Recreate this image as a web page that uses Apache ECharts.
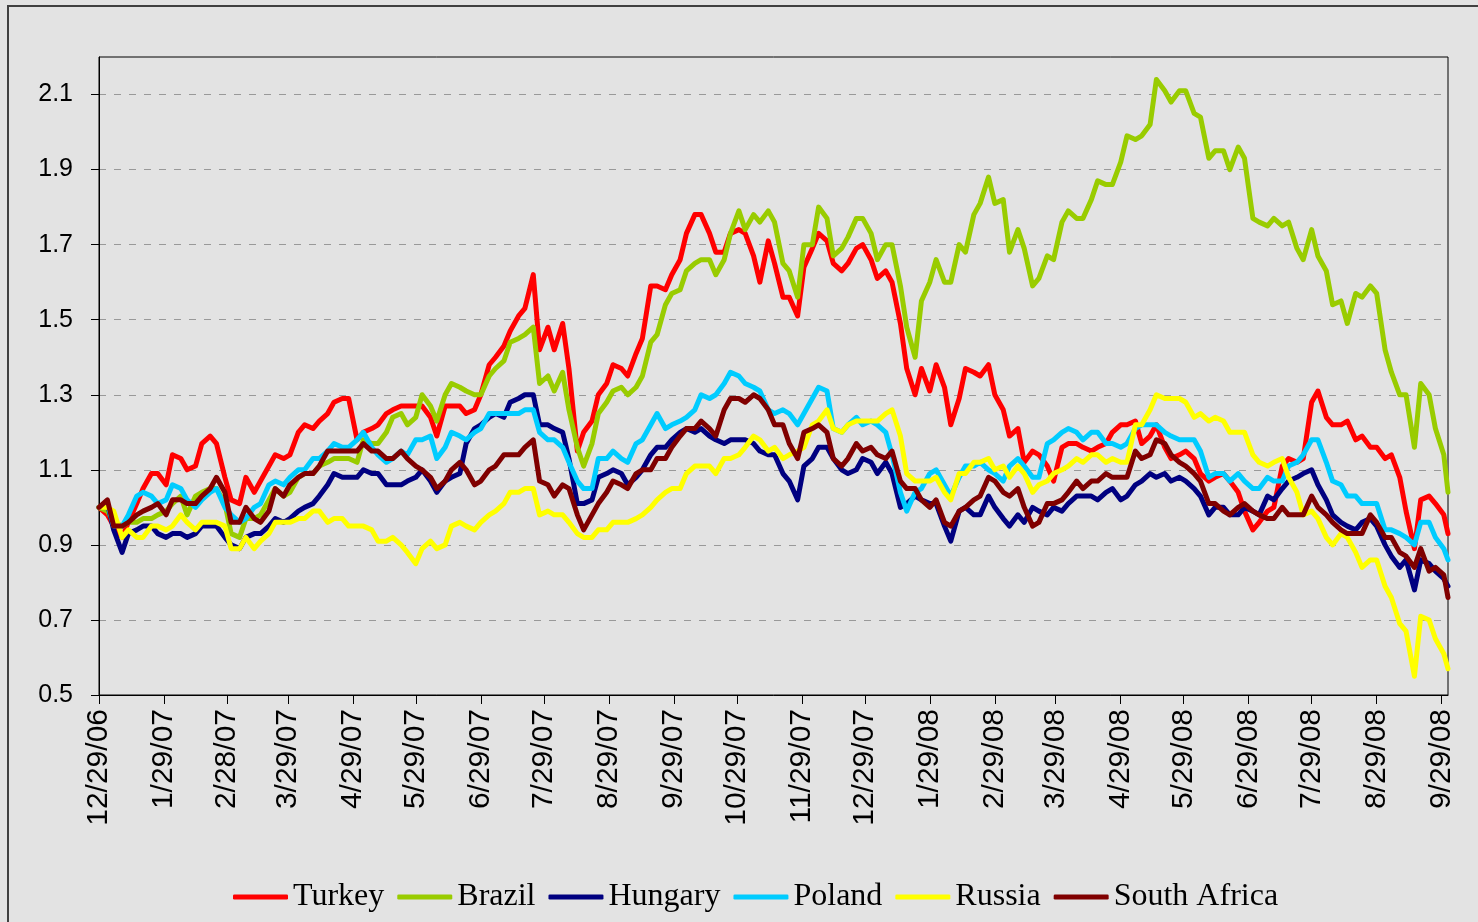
<!DOCTYPE html>
<html>
<head>
<meta charset="utf-8">
<script src="https://cdn.jsdelivr.net/npm/echarts@6/dist/echarts.min.js"></script>
<style>
html, body { margin: 0; padding: 0; background: #e3e3e3; overflow: hidden; }
#echartsShow { position: absolute; left: 0; top: 0; width: 1478px; height: 922px; }
#frame { position: absolute; left: 7px; top: 5px; width: 1600px; height: 1100px; border: 2px solid #404040; pointer-events: none; }
</style>
</head>
<body>
<div id="echartsShow"></div>
<div id="frame"></div>
<script>
// x axis: every calendar day from 12/29/06
// on the weekly days (0, 7, 14 ...) and on the mid-week days (4, 11, 18 ...)
var dayCount = 644;
var weekDays = [];
for (var w = 0; w < 92; w++) weekDays.push(w * 7);
weekDays.push(643);
var midDays = [];
for (var m = 0; m < 92; m++) midDays.push(m * 7 + 4);

var tickLabels = ['12/29/06','1/29/07','2/28/07','3/29/07','4/29/07','5/29/07','6/29/07','7/29/07',
  '8/29/07','9/29/07','10/29/07','11/29/07','12/29/07','1/29/08','2/29/08','3/29/08','4/29/08',
  '5/29/08','6/29/08','7/29/08','8/29/08','9/29/08'];
var yTicks = [0.5, 0.7, 0.9, 1.1, 1.3, 1.5, 1.7, 1.9, 2.1];

var names = ['Turkey', 'Brazil', 'Hungary', 'Poland', 'Russia', 'South Africa'];
var colors = ['#ff0000', '#99cc00', '#000080', '#00ccff', '#ffff00', '#800000'];

var turkey = [1.00,0.95,0.96,1.05,1.09,1.14,1.10,1.17,1.17,1.02,1.08,1.07,1.14,1.14,1.22,1.23,1.28,1.29,1.20,1.22,
  1.26,1.27,1.27,1.19,1.27,1.25,1.30,1.40,1.47,1.53,1.42,1.42,1.37,1.20,1.30,1.38,1.35,1.45,1.59,1.62,
  1.73,1.78,1.68,1.73,1.73,1.60,1.65,1.56,1.64,1.73,1.65,1.65,1.70,1.61,1.60,1.37,1.37,1.38,1.22,1.37,
  1.35,1.30,1.19,1.12,1.14,1.07,1.17,1.16,1.16,1.20,1.22,1.17,1.22,1.13,1.15,1.09,1.08,1.07,0.99,0.96,
  1.00,1.13,1.13,1.31,1.22,1.23,1.19,1.16,1.14,0.99,1.02,1.01,0.93];
var turkeyMid = [0.98,0.92,1.01,1.09,1.06,1.13,1.11,1.19,1.08,1.01,1.04,1.11,1.13,1.20,1.21,1.25,1.29,1.18,1.21,1.25,
  1.27,1.27,1.24,1.27,1.27,1.26,1.38,1.43,1.51,1.62,1.48,1.49,1.15,1.23,1.33,1.37,1.41,1.59,1.58,1.66,
  1.78,1.73,1.68,1.74,1.67,1.71,1.56,1.51,1.69,1.71,1.63,1.69,1.66,1.63,1.49,1.30,1.31,1.32,1.29,1.36,
  1.38,1.26,1.21,1.15,1.11,1.16,1.17,1.15,1.17,1.22,1.23,1.19,1.16,1.14,1.13,1.07,1.09,1.04,0.94,0.99,
  1.11,1.12,1.28,1.24,1.22,1.18,1.16,1.13,1.08,0.89,1.03,0.98];

var brazil = [1.00,0.96,0.96,0.97,0.98,1.01,0.98,1.04,1.05,0.93,0.97,0.98,1.05,1.04,1.09,1.11,1.13,1.13,1.18,1.17,
  1.24,1.22,1.30,1.23,1.33,1.31,1.30,1.37,1.44,1.46,1.33,1.31,1.26,1.11,1.25,1.31,1.30,1.35,1.46,1.57,
  1.63,1.66,1.62,1.73,1.74,1.76,1.76,1.63,1.70,1.80,1.67,1.72,1.77,1.66,1.70,1.48,1.55,1.66,1.60,1.68,
  1.81,1.81,1.68,1.69,1.61,1.66,1.79,1.77,1.87,1.86,1.99,1.99,2.14,2.08,2.11,2.04,1.95,1.90,1.93,1.76,
  1.77,1.76,1.66,1.67,1.54,1.49,1.56,1.57,1.36,1.30,1.33,1.21,1.04];
var brazilMid = [0.99,0.95,0.96,0.97,0.99,1.03,1.03,1.05,1.01,0.92,0.97,1.02,1.03,1.08,1.09,1.12,1.13,1.12,1.17,1.20,
  1.25,1.24,1.27,1.30,1.32,1.30,1.35,1.39,1.45,1.48,1.35,1.36,1.16,1.17,1.28,1.32,1.32,1.44,1.54,1.58,
  1.65,1.66,1.66,1.79,1.78,1.79,1.65,1.56,1.70,1.77,1.69,1.77,1.73,1.70,1.59,1.40,1.60,1.60,1.70,1.78,
  1.88,1.82,1.74,1.59,1.67,1.76,1.77,1.82,1.86,1.92,1.98,2.02,2.11,2.11,2.05,1.93,1.95,1.96,1.77,1.75,
  1.75,1.69,1.74,1.63,1.55,1.57,1.59,1.42,1.30,1.16,1.30,1.14];

var hungary = [1.00,0.94,0.93,0.95,0.93,0.93,0.92,0.95,0.95,0.90,0.92,0.93,0.97,0.97,1.00,1.03,1.09,1.08,1.10,1.09,
  1.06,1.07,1.10,1.04,1.08,1.17,1.22,1.25,1.28,1.30,1.22,1.21,1.13,1.01,1.08,1.10,1.06,1.10,1.16,1.18,
  1.21,1.21,1.18,1.18,1.18,1.15,1.14,1.07,1.11,1.16,1.13,1.09,1.13,1.09,1.09,1.01,1.02,1.01,0.91,1.00,
  0.98,1.00,0.95,0.96,0.99,1.00,1.01,1.03,1.02,1.05,1.03,1.07,1.08,1.07,1.07,1.03,1.00,0.98,1.00,0.98,
  1.02,1.07,1.09,1.06,0.98,0.95,0.96,0.95,0.87,0.86,0.86,0.83,0.79];
var hungaryMid = [1.01,0.88,0.94,0.95,0.92,0.93,0.93,0.95,0.92,0.89,0.93,0.95,0.96,0.99,1.01,1.06,1.08,1.08,1.09,1.06,
  1.06,1.08,1.07,1.07,1.09,1.21,1.24,1.24,1.29,1.30,1.22,1.20,1.01,1.02,1.09,1.09,1.08,1.14,1.16,1.20,
  1.20,1.19,1.17,1.18,1.17,1.14,1.09,1.02,1.13,1.16,1.10,1.10,1.12,1.12,1.00,1.03,1.01,0.95,0.99,0.98,
  1.03,0.97,0.98,1.00,0.98,0.99,1.03,1.03,1.04,1.02,1.06,1.09,1.09,1.08,1.05,0.98,1.00,0.98,0.99,1.03,
  1.05,1.08,1.10,1.02,0.96,0.94,0.97,0.90,0.84,0.78,0.85,0.81];

var poland = [1.00,0.95,0.98,1.04,1.01,1.06,1.02,1.02,1.05,0.98,0.97,1.01,1.07,1.08,1.10,1.13,1.17,1.16,1.20,1.14,
  1.13,1.14,1.18,1.13,1.20,1.18,1.21,1.25,1.25,1.26,1.20,1.18,1.12,1.05,1.13,1.15,1.12,1.18,1.25,1.22,
  1.24,1.30,1.30,1.36,1.33,1.31,1.25,1.25,1.25,1.32,1.21,1.22,1.22,1.22,1.14,0.99,1.05,1.10,1.03,1.11,
  1.12,1.09,1.11,1.11,1.08,1.18,1.21,1.18,1.20,1.17,1.17,1.22,1.22,1.19,1.18,1.15,1.09,1.07,1.07,1.05,
  1.07,1.11,1.14,1.18,1.07,1.03,1.01,1.01,0.94,0.92,0.96,0.92,0.86];
var polandMid = [1.01,0.95,1.03,1.03,1.02,1.05,1.00,1.04,1.00,0.96,1.00,1.06,1.06,1.10,1.13,1.15,1.16,1.18,1.16,1.12,
  1.15,1.18,1.19,1.16,1.19,1.20,1.25,1.25,1.25,1.26,1.18,1.16,1.07,1.05,1.13,1.13,1.17,1.22,1.21,1.23,
  1.26,1.29,1.33,1.35,1.32,1.26,1.26,1.22,1.29,1.31,1.20,1.24,1.23,1.20,1.04,1.04,1.09,1.06,1.08,1.11,
  1.10,1.07,1.13,1.08,1.17,1.20,1.20,1.20,1.17,1.16,1.21,1.22,1.20,1.18,1.18,1.08,1.09,1.09,1.05,1.08,
  1.07,1.12,1.18,1.12,1.06,1.03,1.01,0.94,0.93,0.90,0.96,0.89];

var russia = [1.00,0.99,0.94,0.92,0.95,0.95,0.96,0.96,0.96,0.89,0.92,0.91,0.96,0.96,0.97,0.99,0.97,0.95,0.95,0.91,
  0.92,0.88,0.89,0.89,0.95,0.95,0.96,0.99,1.04,1.05,0.98,0.98,0.96,0.92,0.94,0.96,0.96,0.98,1.02,1.05,
  1.09,1.11,1.09,1.13,1.16,1.18,1.16,1.14,1.16,1.23,1.21,1.22,1.23,1.23,1.26,1.09,1.07,1.08,1.02,1.09,
  1.12,1.10,1.08,1.09,1.06,1.09,1.11,1.12,1.14,1.13,1.12,1.22,1.30,1.29,1.28,1.25,1.24,1.20,1.20,1.12,
  1.12,1.08,0.98,0.97,0.90,0.92,0.84,0.86,0.76,0.67,0.71,0.65,0.57];
var russiaMid = [1.00,0.92,0.92,0.95,0.94,0.98,0.94,0.96,0.95,0.89,0.89,0.93,0.96,0.97,0.99,0.96,0.97,0.95,0.94,0.91,
  0.90,0.85,0.91,0.90,0.96,0.94,0.98,1.01,1.04,1.05,0.99,0.98,0.93,0.92,0.94,0.96,0.97,1.00,1.04,1.05,
  1.11,1.11,1.13,1.14,1.19,1.15,1.13,1.15,1.22,1.26,1.20,1.23,1.23,1.25,1.19,1.07,1.07,1.04,1.09,1.12,
  1.13,1.11,1.11,1.04,1.07,1.10,1.13,1.14,1.12,1.12,1.22,1.26,1.29,1.29,1.24,1.23,1.23,1.20,1.14,1.11,
  1.13,1.04,0.99,0.92,0.93,0.88,0.86,0.79,0.69,0.55,0.70,0.61];

var southAfrica = [1.00,0.95,0.96,0.99,1.01,1.02,1.01,1.03,1.08,0.96,1.00,0.96,1.05,1.06,1.09,1.11,1.15,1.15,1.17,1.15,
  1.13,1.13,1.10,1.05,1.10,1.10,1.07,1.11,1.14,1.16,1.07,1.03,1.05,0.94,1.01,1.07,1.05,1.10,1.13,1.16,
  1.21,1.23,1.19,1.29,1.28,1.29,1.22,1.17,1.20,1.22,1.13,1.13,1.15,1.14,1.15,1.05,1.02,1.02,0.95,1.00,
  1.03,1.07,1.03,1.00,0.96,1.01,1.04,1.05,1.07,1.08,1.08,1.13,1.18,1.14,1.11,1.07,1.01,0.98,1.01,0.98,
  0.97,0.98,0.98,1.00,0.96,0.93,0.93,0.96,0.92,0.87,0.89,0.84,0.76];
var southAfricaMid = [1.02,0.95,0.98,1.00,0.98,1.02,1.01,1.05,1.04,0.96,0.97,0.99,1.03,1.08,1.09,1.15,1.15,1.15,1.15,1.13,
  1.15,1.11,1.08,1.07,1.12,1.06,1.10,1.14,1.14,1.18,1.06,1.06,0.98,0.98,1.04,1.06,1.09,1.10,1.13,1.19,
  1.21,1.21,1.26,1.29,1.30,1.26,1.22,1.13,1.21,1.20,1.11,1.17,1.16,1.13,1.07,1.05,1.00,0.96,0.99,1.02,
  1.08,1.04,1.05,0.95,1.01,1.02,1.07,1.07,1.09,1.08,1.15,1.14,1.17,1.12,1.09,1.01,0.99,1.00,0.99,0.97,
  1.00,0.98,1.03,0.98,0.94,0.93,0.98,0.92,0.88,0.84,0.83,0.82];

var weekValues = [turkey, brazil, hungary, poland, russia, southAfrica];
var midValues = [turkeyMid, brazilMid, hungaryMid, polandMid, russiaMid, southAfricaMid];

// category names M/D/YY for each day
var categories = [];
for (var d = 0; d < dayCount; d++) {
  var dt = new Date(Date.UTC(2006, 11, 29 + d));
  categories.push((dt.getUTCMonth() + 1) + '/' + dt.getUTCDate() + '/' + String(dt.getUTCFullYear()).slice(2));
}
function isTick(index, value) {
  return tickLabels.indexOf(categories[index]) >= 0;
}
function seriesData(i) {
  var pts = weekDays.map(function (d, j) { return [d, weekValues[i][j]]; });
  midDays.forEach(function (d, j) { pts.push([d, midValues[i][j]]); });
  pts.sort(function (a, b) { return a[0] - b[0]; });
  return pts;
}

var echartsShow = echarts.init(document.getElementById('echartsShow'));
var option = {
  animation: false,
  backgroundColor: '#e3e3e3',
  grid: {
    left: 99, right: 30, top: 57, bottom: 227,
    show: true, borderColor: '#000', borderWidth: 1, backgroundColor: 'transparent'
  },
  legend: {
    left: 228, top: 876,
    itemWidth: 55, itemHeight: 5, itemGap: 13,
    icon: 'roundRect',
    textStyle: { fontFamily: 'Liberation Serif', fontSize: 32, color: '#000' },
    data: names
  },
  xAxis: {
    type: 'category',
    data: categories,
    boundaryGap: false,
    axisLine: { lineStyle: { color: '#000', width: 1 } },
    axisTick: { show: true, length: 9, interval: isTick, lineStyle: { color: '#000' } },
    axisLabel: {
      interval: isTick, rotate: 90, margin: 14,
      fontFamily: 'Liberation Sans', fontSize: 30, color: '#000'
    },
    splitLine: { show: false }
  },
  yAxis: {
    type: 'value',
    min: 0.5, max: 2.2,
    axisLine: { show: true, lineStyle: { color: '#000', width: 1 } },
    axisTick: { show: true, length: 8, customValues: yTicks, lineStyle: { color: '#000' } },
    axisLabel: {
      customValues: yTicks, margin: 26,
      formatter: function (v) { return v.toFixed(1); },
      fontFamily: 'Liberation Sans', fontSize: 25, color: '#000'
    },
    splitLine: { show: true, lineStyle: { color: '#999', width: 1, type: [7, 8] } }
  },
  series: names.map(function (n, i) {
    return {
      name: n,
      type: 'line',
      symbol: 'none',
      showSymbol: false,
      data: seriesData(i),
      lineStyle: { width: 5, color: colors[i], cap: 'round', join: 'round' },
      itemStyle: { color: colors[i] }
    };
  })
};
echartsShow.setOption(option);
</script>
</body>
</html>
